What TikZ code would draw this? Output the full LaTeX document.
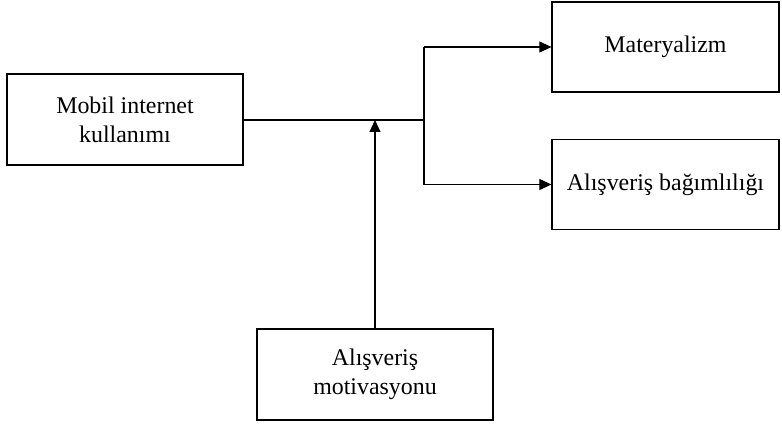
\documentclass[tikz,border=0pt]{standalone}
\usepackage{fontspec}
\setmainfont{Liberation Serif}
\usetikzlibrary{arrows.meta, positioning, calc}
\tikzset{
  kutu/.style = {draw=black, fill=white, font=\fontsize{13.6}{16.5}\selectfont,
    align=center, inner sep=2pt, line width=0.7pt,
    minimum width=4.72cm, minimum height=1.82cm},
  kutuS/.style = {kutu, minimum width=4.54cm, minimum height=1.8cm},
  bag/.style = {draw=black, line width=0.6pt},
  ok/.style = {bag, -{Triangle[length=2.4mm, width=2.2mm]}}
}
\begin{document}
\begin{tikzpicture}
  \useasboundingbox (0,0) rectangle (15.64,8.48);
  \node [kutu] (mob) at (2.5,6.09) {Mobil internet\\kullanımı};
  \node [kutuS] (mat) at (13.31,7.54) {Materyalizm};
  \node [kutuS] (bgm) at (13.31,4.79) {Alışveriş bağımlılığı};
  \node [kutu] (mot) at (7.5,0.99) {Alışveriş\\motivasyonu};
  \coordinate (j) at (8.48,6.08);
  \coordinate (m) at (mot.north |- j);
  % ana yol
  \draw [bag] (mob.east |- j) -- (j);
  \draw [bag] (j |- mat.west) -- (j |- bgm.west);
  \draw [ok] (j |- mat.west) -- (mat.west);
  \draw [ok] (j |- bgm.west) -- (bgm.west);
  % moderator
  \draw [ok] (mot.north) -- (m);
\end{tikzpicture}
\end{document}
